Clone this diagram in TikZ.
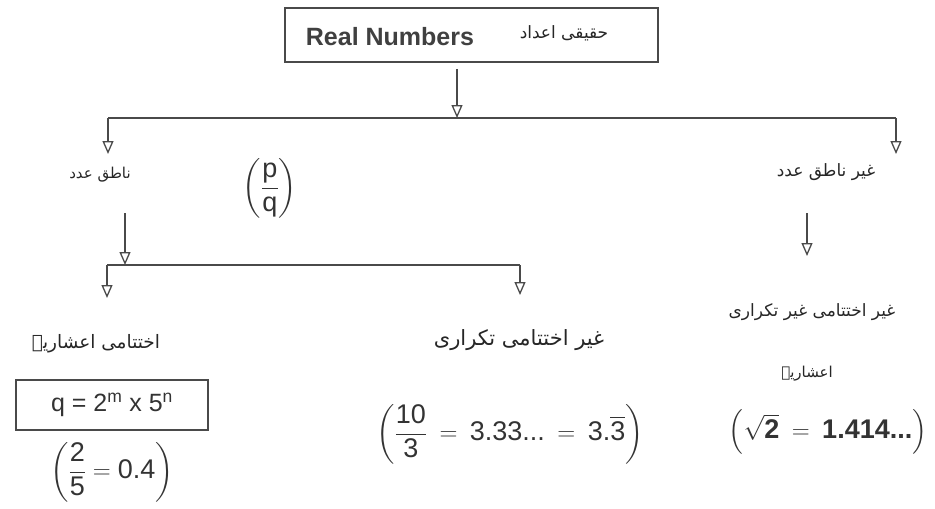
\documentclass[tikz,border=0pt]{standalone}
\usepackage{amsmath}
\usepackage{fontspec}
\setmainfont{Liberation Sans}
\newfontfamily\urdu[Script=Arabic]{DejaVu Sans}
\TeXXeTstate=1
\usetikzlibrary{arrows.meta}
\definecolor{ln}{HTML}{4A4A4A}
\tikzset{
  conn/.style={draw=ln, line width=1.4pt, -{Triangle[open, length=13pt, width=11pt, line width=1.3pt]}},
  plain/.style={draw=ln, line width=1.4pt},
  ur/.style={font=\urdu\fontsize{17}{20}\selectfont, inner sep=0pt, text=black!85},
  eq/.style={font=\fontsize{27}{31}\selectfont, inner sep=0pt, text=black!80},
  framebox/.style={draw=ln, line width=1.6pt}
}
\begin{document}
\begin{tikzpicture}[x=1pt,y=-1pt]
\useasboundingbox (0,0) rectangle (935,509);
% top box
\node[framebox, minimum width=373pt, minimum height=54pt] (top) at (471.5,35) {};
\node[font=\bfseries\fontsize{25}{28}\selectfont, text=black!75, inner sep=0pt] (rn) at (390,37) {Real Numbers};
\node[ur] (rnu) at (564,33) {\beginR حقیقی اعداد\endR};
% first level
\coordinate (j0) at (457,118);
\coordinate (jl) at (108,118);
\coordinate (jr) at (896,118);
\coordinate (tl) at (108,154);
\coordinate (tr) at (896,154);
\draw[conn] ([xshift=-14.5pt,yshift=-6pt]top.south) -- (j0);
\draw[plain] (jl) -- (jr);
\draw[conn] (jl) -- (tl);
\draw[conn] (jr) -- (tr);
\node[ur, font=\urdu\fontsize{15}{18}\selectfont] (rat) at (100,175) {\beginR ناطق عدد\endR};
\node[eq] (pq) at (270,188) {$\left(\dfrac{\text{p}}{\text{q}}\right)$};
\node[ur] (irr) at (826,172) {\beginR غیر ناطق عدد\endR};
% second level
\coordinate (r0) at (125,213);
\coordinate (k0) at (125,265);
\coordinate (kl) at (107,265);
\coordinate (kr) at (520,265);
\coordinate (ul) at (107,298);
\coordinate (ur) at (520,295);
\draw[conn] (r0) -- (k0);
\draw[plain] (kl) -- (kr);
\draw[conn] (kl) -- (ul);
\draw[conn] (kr) -- (ur);
\coordinate (i0) at (807,213);
\coordinate (i1) at (807,256);
\draw[conn] (i0) -- (i1);
% leaves
\node[ur, font=\urdu\fontsize{18.5}{22}\selectfont] (term) at (96,344) {\beginR اختتامی اعشاریہ\endR};
\node[framebox, minimum width=192pt, minimum height=50pt, font=\fontsize{25}{29}\selectfont, text=black!80] (qbox) at (112,405) {q = 2\textsuperscript{m} x 5\textsuperscript{n}};
\node[eq] (ex1) at (112,472) {$\left(\dfrac{\text{2}}{\text{5}} = \text{0.4}\right)$};
\node[ur, font=\urdu\fontsize{21}{24}\selectfont] (nonterm) at (519,340) {\beginR غیر اختتامی تکراری\endR};
\node[eq] (ex2) at (510,434) {$\left(\dfrac{\text{10}}{\text{3}} \:=\: \text{3.33...} \:=\: \text{3.}\overline{\text{3}}\right)$};
\node[ur] (nonrep) at (812,312) {\beginR غیر اختتامی غیر تکراری\endR};
\node[ur, font=\urdu\fontsize{15}{18}\selectfont] (dec) at (807,374) {\beginR اعشاریہ\endR};
\node[eq, font=\bfseries\fontsize{27}{31}\selectfont] (ex3) at (828,432) {$\left(\sqrt{\text{2}} \:=\: \text{1.414...}\right)$};
\end{tikzpicture}
\end{document}
